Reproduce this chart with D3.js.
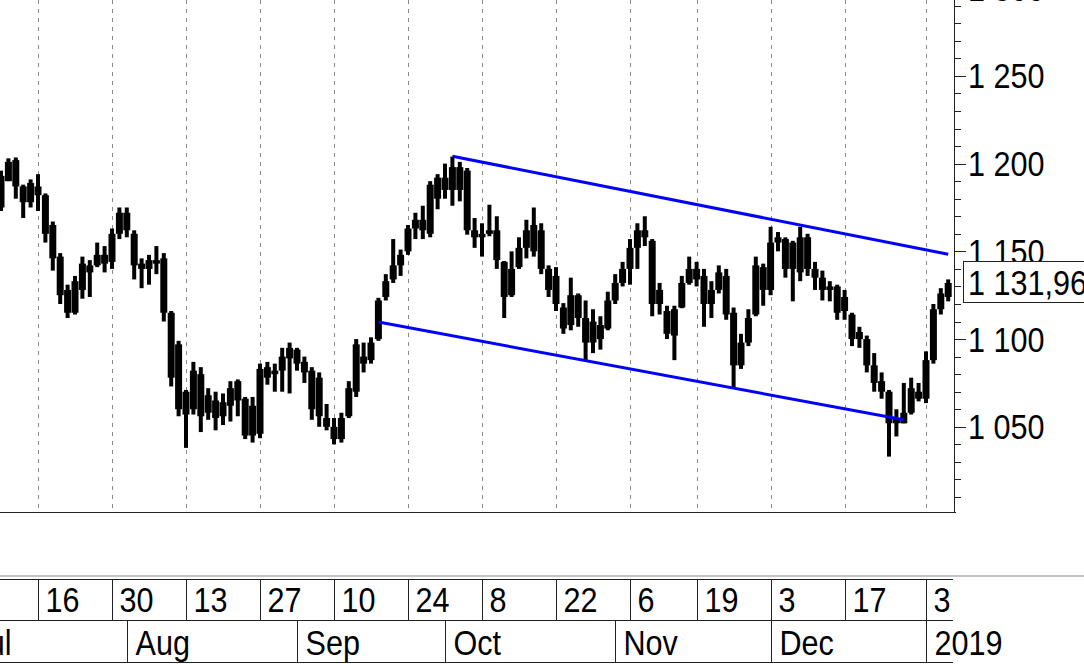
<!DOCTYPE html>
<html><head><meta charset="utf-8">
<script src="https://cdn.jsdelivr.net/npm/d3@7"></script>
<style>html,body{margin:0;padding:0;background:#fff;overflow:hidden}</style>
</head><body><svg id="c" width="1084" height="664"></svg>
<script>
// ---------- data ----------
const calendarStart = "2018-07-02";
const calendarEnd = "2019-01-10";
const holidays = ["2018-11-05", "2018-12-31", "2019-01-01", "2019-01-02", "2019-01-07", "2019-01-08"];
const workSaturdays = ["2018-12-29"];
const dataStart = "2018-07-09";

const open = [1193,1190,1202,1187,1178,1187,1182,1165,1147,1128,1115,1128,1142,1142,1148,1144,1160,1172,1160,1143,
1140,1143,1146,1115,1097,1070,1060,1080,1058,1065,1056,1062,1076,1066,1045,1046,1084,1080,1082,1089,
1094,1087,1082,1078,1055,1050,1043,1056,1070,1090,1088,1100,1124,1134,1142,1150,1163,1168,1160,1180,
1192,1185,1198,1196,1162,1158,1160,1162,1144,1125,1141,1152,1165,1162,1140,1136,1118,1108,1125,1112,
1098,1108,1106,1122,1132,1140,1152,1162,1156,1120,1116,1102,1118,1132,1140,1136,1120,1128,1136,1115,
1085,1098,1114,1141,1128,1155,1157,1140,1138,1158,1140,1135,1128,1130,1116,1114,1100,1100,1085,1076,
1070,1052,1052,1058,1070,1066,1088,1117,1124];
const high = [1196,1203,1203.5,1188,1191,1194,1183,1167,1149,1131,1136,1147,1145,1155,1153,1163,1175,1175,1162,1146,
1148,1153,1149,1116,1099,1071,1087,1084,1072,1070,1069,1076,1077,1067,1067,1086,1087,1086,1095,1098,
1095,1090,1084,1081,1063,1055,1058,1076,1100,1098,1101,1123.5,1137,1157,1151,1165,1172,1176,1190,1194,
1200,1204,1201,1197.5,1169,1166,1176.6,1170,1144.5,1150,1158,1168,1175,1166,1142,1141,1120.5,1135,1126,1122,
1117,1113,1127,1137,1144,1157,1166,1170,1157,1132,1119,1119,1136,1147,1144,1140,1133,1142,1140,1118,
1103,1117,1147,1143,1164,1161,1158,1156,1164,1160,1144,1139,1133,1131,1128,1115,1107,1102,1092,1081,
1071,1060,1075,1078,1075,1093,1120,1129,1134];
const low = [1173,1190,1180,1169,1175,1173,1155,1139,1120,1112,1114,1123,1124,1141,1138,1140,1157,1158,1134,1129,
1131,1137,1110,1073,1056,1038,1057,1047,1054,1048,1051,1053,1056,1043,1041,1043.5,1074,1070,1070,1069,
1082,1075,1054,1050,1048,1040,1041,1055,1067,1081,1086,1099,1122,1132,1136,1148,1157,1157,1158,1174,
1180,1176,1178.5,1159.5,1152,1147,1158.6,1140,1112,1124,1140,1146,1147,1137,1124,1116,1103,1105,1107,1088,
1092,1094,1105,1120,1130,1131,1140,1153,1113,1114,1100,1088,1117.6,1131,1130,1107,1112,1126,1111,1072,
1083,1096,1113,1119,1125,1150,1135,1121.5,1133,1136,1128,1122,1121.5,1111,1111,1096,1095,1081,1070,1066,
1033,1044.5,1052,1057,1064.5,1063.5,1086,1114,1121.5];
const close = [1175,1201,1187,1178,1189,1182,1160,1146,1125,1115,1133,1143,1138,1148,1143,1160,1172,1162,1142,1140,
1145,1145,1115,1078,1060,1057,1082,1056,1068,1055,1064,1072,1065,1045,1062,1083,1078,1082,1090,1095,
1086,1081,1060,1056,1050,1043,1055,1072,1097,1086,1098,1122,1133,1142,1148,1163,1168,1162,1188,1192,
1185,1198,1185,1162,1158,1160,1162,1145,1124,1140,1152,1162,1150,1140,1128,1120,1106,1125,1112,1098,
1110,1100,1122,1132,1140,1152,1162,1158,1120,1128,1103,1117,1132,1140,1134,1120,1128,1138,1114,1085,
1098,1112,1142,1128,1155,1158,1140,1155,1158,1140,1135,1128,1130,1115,1124,1100,1104,1085,1075,1070,
1052,1055,1058,1072,1066,1088,1117,1126,1131.96];

const dayTickDates = ["2018-07-16","2018-07-30","2018-08-13","2018-08-27","2018-09-10","2018-09-24",
  "2018-10-08","2018-10-22","2018-11-06","2018-11-19","2018-12-03","2018-12-17","2019-01-03"];
const monthNames = ["Jan","Feb","Mar","Apr","May","Jun","Jul","Aug","Sep","Oct","Nov","Dec"];
const yMajorStep = 50, yMinorStep = 10;
const yRange = [1000, 1300];
const lastPrice = 1131.96;
const channelUpperDates = ["2018-10-02", "2019-01-10"], channelUpperValues = [1204.2, 1148.3];
const channelLowerDates = ["2018-09-18", "2018-12-27"], channelLowerValues = [1109.7, 1054.0];

// ---------- calendar ----------
const fmt = d3.utcFormat("%Y-%m-%d");
const calendar = [];
for (let d = new Date(calendarStart + "T00:00:00Z"); fmt(d) <= calendarEnd; d = d3.utcDay.offset(d, 1)) {
  const s = fmt(d), wd = d.getUTCDay();
  const isWork = (wd !== 0 && wd !== 6 && !holidays.includes(s)) || workSaturdays.includes(s);
  if (isWork) calendar.push(s);
}
const idx = s => calendar.indexOf(s);
const off = idx(dataStart);
const bars = open.map((o, i) => ({ i: i + off, o, h: high[i], l: low[i], c: close[i] }));

// ---------- scales ----------
const W = 1084, H = 664;
const plotBottom = 512, axisX = 955;
const x = d3.scaleLinear().domain([idx(dayTickDates[0]), idx(dayTickDates[12])]).range([38, 926]);
const y = d3.scaleLinear().domain([1050, 1250]).range([426.8, 75.9]);
const loc = d3.formatLocale({ decimal: ",", thousands: " ", grouping: [3], currency: ["", ""] });
const f0 = loc.format(",.0f"), f2 = loc.format(",.2f");

const svg = d3.select("#c");
const FONT = "'Liberation Sans', Arial, sans-serif";
function txt(g, px, py, s) {
  return g.append("text").attr("transform", `translate(${px},${py}) scale(0.874,1)`)
    .attr("font-family", FONT).attr("font-size", 35).attr("fill", "#000").text(s);
}
const crisp = v => Math.round(v) + 0.5;

// gridlines
svg.append("g").selectAll("line").data(dayTickDates).join("line")
  .attr("x1", d => crisp(x(idx(d)))).attr("x2", d => crisp(x(idx(d))))
  .attr("y1", 0).attr("y2", plotBottom)
  .attr("stroke", "#8a8a8a").attr("stroke-width", 1).attr("stroke-dasharray", "4,5")
  .attr("shape-rendering", "crispEdges");

// bars
const gb = svg.append("g").attr("fill", "#000");
gb.selectAll("rect.w").data(bars).join("rect").attr("class", "w")
  .attr("x", d => x(d.i) - 2).attr("width", 4)
  .attr("y", d => y(d.h)).attr("height", d => Math.max(1, y(d.l) - y(d.h)));
gb.selectAll("rect.b").data(bars).join("rect").attr("class", "b")
  .attr("x", d => x(d.i) - 3.5).attr("width", 7)
  .attr("y", d => y(Math.max(d.o, d.c))).attr("height", d => Math.max(3, Math.abs(y(d.o) - y(d.c))));

// channel lines
const ch = [[channelUpperDates, channelUpperValues], [channelLowerDates, channelLowerValues]];
svg.append("g").selectAll("line").data(ch).join("line")
  .attr("x1", d => x(idx(d[0][0]))).attr("y1", d => y(d[1][0]))
  .attr("x2", d => x(idx(d[0][1]))).attr("y2", d => y(d[1][1]))
  .attr("stroke", "#0000ff").attr("stroke-width", 3);

// frame
svg.append("line").attr("x1", 0).attr("x2", axisX + 0.5).attr("y1", plotBottom + 0.5).attr("y2", plotBottom + 0.5)
  .attr("stroke", "#222").attr("shape-rendering", "crispEdges");
svg.append("line").attr("x1", axisX - 0.5).attr("x2", axisX - 0.5).attr("y1", 0).attr("y2", plotBottom + 1)
  .attr("stroke", "#222").attr("shape-rendering", "crispEdges");

// y ticks
const minor = d3.range(yRange[0] + yMinorStep, yRange[1] + 1, yMinorStep);
const ga = svg.append("g");
ga.selectAll("line").data(minor).join("line")
  .attr("x1", axisX).attr("x2", d => axisX + (d % yMajorStep === 0 ? 11 : 6))
  .attr("y1", d => crisp(y(d))).attr("y2", d => crisp(y(d)))
  .attr("stroke", "#222").attr("shape-rendering", "crispEdges");
minor.filter(d => d % yMajorStep === 0).forEach(d => txt(ga, 968, y(d) + 12.5, f0(d)));

// last price box
svg.append("rect").attr("x", 963.5).attr("y", y(lastPrice) - 21.5).attr("width", 140).attr("height", 41)
  .attr("fill", "#fff").attr("stroke", "#222").attr("shape-rendering", "crispEdges");
txt(svg, 968, y(lastPrice) + 11.5, f2(lastPrice));

// x axis rows
svg.append("rect").attr("x", 0).attr("y", 575).attr("width", W).attr("height", 2).attr("fill", "#c4c4c4");
const rowEnd = 953;
[579.5, 620.5, 662.5].forEach(yy => svg.append("line").attr("x1", 0).attr("x2", rowEnd)
  .attr("y1", yy).attr("y2", yy).attr("stroke", "#222").attr("shape-rendering", "crispEdges"));
const gx = svg.append("g");
dayTickDates.forEach(d => {
  const px = crisp(x(idx(d)));
  gx.append("line").attr("x1", px).attr("x2", px).attr("y1", 579.5).attr("y2", 620.5)
    .attr("stroke", "#222").attr("shape-rendering", "crispEdges");
  txt(gx, px + 7, 612, String(+d.slice(8)));
});
// months: first trading day of each month
const months = [];
calendar.forEach((s, i) => { const k = s.slice(0, 7); if (!months.length || months[months.length - 1].k !== k) months.push({ k, i }); });
months.forEach(m => {
  const px = crisp(x(m.i));
  const mi = +m.k.slice(5) - 1;
  const label = mi === 0 ? m.k.slice(0, 4) : monthNames[mi];
  gx.append("line").attr("x1", px).attr("x2", px).attr("y1", 620.5).attr("y2", 662.5)
    .attr("stroke", "#222").attr("shape-rendering", "crispEdges");
  txt(gx, px + 8, 655, label);
});
</script></body></html>
